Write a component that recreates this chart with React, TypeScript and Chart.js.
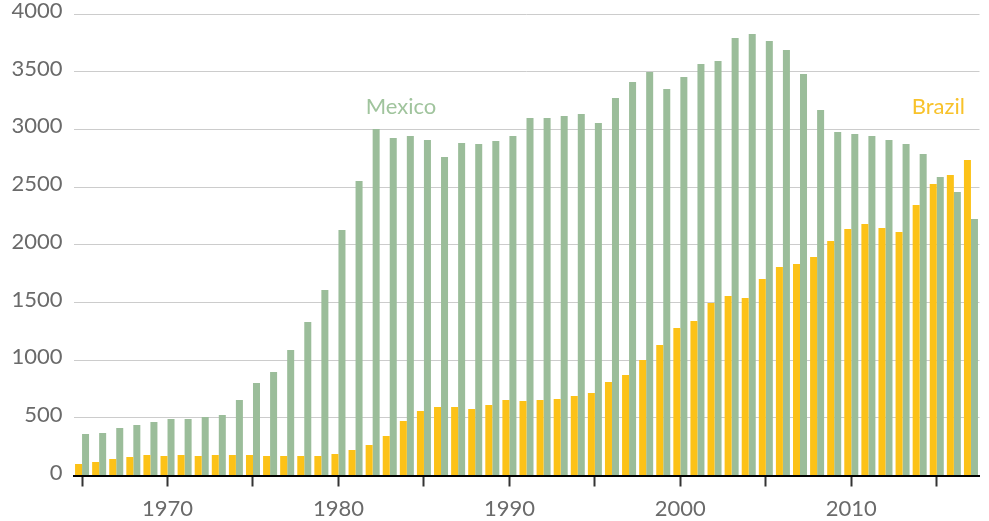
import { useEffect, useRef } from 'react';
import { Chart, registerables } from 'chart.js';

Chart.register(...registerables);

const years = [
  1965, 1966, 1967, 1968, 1969, 1970, 1971, 1972, 1973, 1974,
  1975, 1976, 1977, 1978, 1979, 1980, 1981, 1982, 1983, 1984,
  1985, 1986, 1987, 1988, 1989, 1990, 1991, 1992, 1993, 1994,
  1995, 1996, 1997, 1998, 1999, 2000, 2001, 2002, 2003, 2004,
  2005, 2006, 2007, 2008, 2009, 2010, 2011, 2012, 2013, 2014,
  2015, 2016, 2017,
];

const mexico = [
  360, 368, 412, 438, 464, 490, 490, 507, 524, 654,
  802, 897, 1088, 1330, 1608, 2128, 2552, 3003, 2925, 2942,
  2908, 2760, 2882, 2873, 2899, 2942, 3098, 3098, 3116, 3133,
  3055, 3272, 3410, 3497, 3350, 3454, 3566, 3592, 3791, 3826,
  3766, 3688, 3480, 3168, 2977, 2960, 2942, 2908, 2873, 2786,
  2587, 2457, 2223,
];

const brazil = [
  100, 117, 143, 160, 178, 169, 178, 169, 178, 178,
  178, 169, 169, 169, 169, 186, 221, 264, 342, 472,
  559, 594, 594, 576, 611, 654, 646, 654, 663, 689,
  715, 810, 871, 1001, 1131, 1278, 1339, 1495, 1556, 1539,
  1703, 1807, 1833, 1894, 2032, 2136, 2180, 2145, 2111, 2344,
  2526, 2604, 2734,
];

const yMin = 0;
const yMax = 4000;
const yStep = 500;

const GREEN = '#9bbd9a';
const YELLOW = '#fcc218';
const GREEN_LABEL = '#a0c49d';
const YELLOW_LABEL = '#f8c22a';
const FONT = 'Lato, "Open Sans", sans-serif';

const labelPlugin = {
  id: 'seriesLabels',
  afterDatasetsDraw(chart: any) {
    const { ctx, scales } = chart;
    const x = scales.x;
    const y = scales.y;
    ctx.save();
    ctx.font = `400 22px ${FONT}`;
    ctx.textBaseline = 'alphabetic';
    ctx.fillStyle = GREEN_LABEL;
    ctx.textAlign = 'left';
    ctx.fillText('Mexico', x.getPixelForValue(years.indexOf(1982)) - 7, y.getPixelForValue(3130));
    ctx.fillStyle = YELLOW_LABEL;
    ctx.textAlign = 'right';
    ctx.fillText('Brazil', x.getPixelForValue(years.indexOf(2017)) - 6, y.getPixelForValue(3130));
    ctx.restore();
  },
};

export default function App() {
  const canvasRef = useRef<HTMLCanvasElement | null>(null);

  useEffect(() => {
    document.body.style.margin = '0';
    const canvas = canvasRef.current;
    if (!canvas) return;
    const chart = new Chart(canvas, {
      type: 'bar',
      data: {
        labels: years.map(String),
        datasets: [
          {
            label: 'Brazil',
            data: brazil,
            backgroundColor: YELLOW,
            borderWidth: 0,
            barPercentage: 1,
            categoryPercentage: 0.82,
          },
          {
            label: 'Mexico',
            data: mexico,
            backgroundColor: GREEN,
            borderWidth: 0,
            barPercentage: 1,
            categoryPercentage: 0.82,
          },
        ],
      },
      options: {
        responsive: false,
        animation: false,
        devicePixelRatio: 1,
        layout: { padding: { left: 0, right: 9.5, top: 14, bottom: 0 } },
        plugins: {
          legend: { display: false },
          tooltip: { enabled: false },
        },
        scales: {
          x: {
            offset: true,
            grid: {
              offset: false,
              drawOnChartArea: false,
              drawTicks: true,
              tickLength: 11,
              tickWidth: 2,
              tickColor: (ctx: any) => {
                const yr = years[ctx.index];
                return yr !== undefined && yr % 5 === 0 ? '#333333' : 'rgba(0,0,0,0)';
              },
            },
            border: { display: true, color: '#000000', width: 2 },
            ticks: {
              autoSkip: false,
              maxRotation: 0,
              minRotation: 0,
              padding: 9,
              color: '#6a6a6a',
              font: { family: FONT, size: 22, weight: '400' },
              callback: (_v: any, i: number) => (years[i] % 10 === 0 ? String(years[i]) : ''),
            },
            afterFit: (scale: any) => {
              scale.height = 45.5;
            },
          },
          y: {
            min: yMin,
            max: yMax,
            grid: {
              color: '#cccccc',
              lineWidth: 1,
              drawTicks: false,
            },
            border: { display: false },
            ticks: {
              stepSize: yStep,
              padding: 11,
              labelOffset: -3,
              color: '#6a6a6a',
              font: { family: FONT, size: 22, weight: '400' },
              callback: (v: any) => String(v),
            },
            afterFit: (scale: any) => {
              scale.width = 73.5;
              scale.paddingTop = 0;
              scale.paddingBottom = 0;
            },
          },
        },
      },
      plugins: [labelPlugin],
    });
    return () => chart.destroy();
  }, []);

  return (
    <div style={{ width: 989, height: 521 }}>
      <canvas ref={canvasRef} width={989} height={521} style={{ display: 'block' }} />
    </div>
  );
}
